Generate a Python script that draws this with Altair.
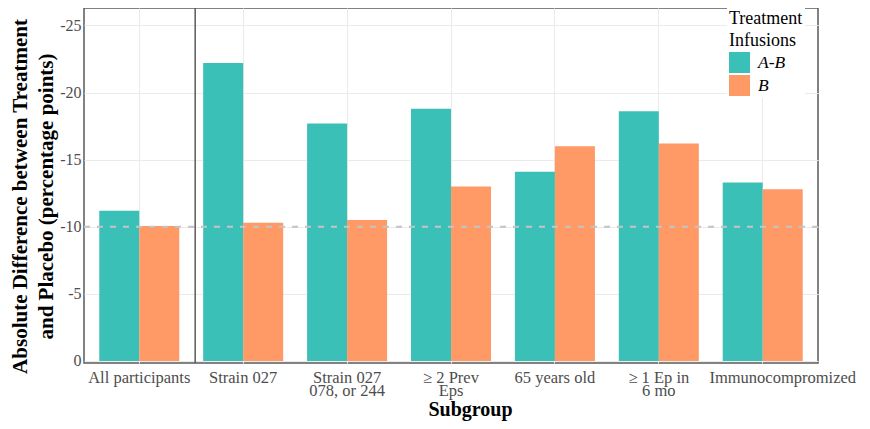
import altair as alt
import pandas as pd

subgroups = ["All participants", "Strain 027", "Strain 027\n078, or 244", "≥ 2 Prev\nEps",
             "65 years old", "≥ 1 Ep in\n6 mo", "Immunocompromized"]
treatments = ["A-B", "B"]
ab_values = [-11.2, -22.2, -17.7, -18.8, -14.1, -18.6, -13.3]
b_values = [-10.05, -10.3, -10.5, -13.0, -16.0, -16.2, -12.8]
reference_line = [-10]
y_ticks = [0, -2.5, -5, -7.5, -10, -12.5, -15, -17.5, -20, -22.5, -25]

rows = []
for s, a, b in zip(subgroups, ab_values, b_values):
    rows.append({"Subgroup": s, "Treatment": "A-B", "value": a})
    rows.append({"Subgroup": s, "Treatment": "B", "value": b})
df = pd.DataFrame(rows)

FONT = "Liberation Serif"
W, H = 734, 355

xscale = alt.Scale(domain=subgroups, paddingInner=0.23, paddingOuter=0.147)
yscale = alt.Scale(domain=[0.15, -26.3], nice=False, zero=False)

bars = alt.Chart(df).mark_bar().encode(
    x=alt.X("Subgroup:N", scale=xscale, sort=subgroups,
            axis=alt.Axis(title="Subgroup", labelAngle=0, grid=True, bandPosition=0.5,
                          ticks=False, domain=False, gridColor="#EBEBEB", gridWidth=1,
                          labelExpr="split(datum.label, '\\n')", labelFont=FONT,
                          labelFontSize=16.5, labelColor="#4D4D4D", labelLineHeight=13.5,
                          labelPadding=6,
                          labelOffset={"condition": {"test": "datum.label == 'Immunocompromized'",
                                                     "value": 20}, "value": 0},
                          titleFont=FONT, titleFontSize=20,
                          titleFontWeight="bold", titleColor="#000000",
                          titleX=386, titleY=36, titleBaseline="top")),
    xOffset=alt.XOffset("Treatment:N", sort=treatments,
                        scale=alt.Scale(paddingInner=0, paddingOuter=0)),
    y=alt.Y("value:Q", scale=yscale,
            axis=alt.Axis(title=["Absolute Difference between Treatment",
                                 "and Placebo (percentage points)"],
                          values=y_ticks, grid=True, gridColor="#EBEBEB", gridWidth=1,
                          ticks=False, domain=False,
                          labelExpr="datum.value % 5 == 0 ? (datum.value < 0 ? '-' + abs(datum.value) : '0') : ''",
                          labelFont=FONT, labelFontSize=16, labelColor="#4D4D4D",
                          labelPadding=3, titleFont=FONT, titleFontSize=21,
                          titleFontWeight="bold", titleColor="#000000",
                          titleLineHeight=26, titlePadding=3, titleY=188)),
    color=alt.Color("Treatment:N", sort=treatments,
                    scale=alt.Scale(domain=treatments, range=["#3BC0B8", "#FF9966"]),
                    legend=alt.Legend(title=["Treatment", "Infusions"], orient="none",
                                      legendX=643, legendY=0, padding=2,
                                      fillColor="#FFFFFF", titleFont=FONT,
                                      titleFontSize=18, titleFontWeight="normal",
                                      titleColor="#000000", titleLineHeight=22,
                                      titlePadding=2, labelFont=FONT, labelFontSize=17.5,
                                      labelFontStyle="italic", labelColor="#000000",
                                      labelOffset=8, symbolType="square", symbolSize=441,
                                      symbolStrokeWidth=0, rowPadding=2)),
)

sep = alt.Chart(pd.DataFrame({"Subgroup": [subgroups[1]]})).mark_rule(
    color="#5A5A5A", strokeWidth=1.5, xOffset=-8
).encode(
    x=alt.X("Subgroup:N", scale=xscale, sort=subgroups, bandPosition=0),
    y=alt.value(0), y2=alt.value(H),
)

dash = alt.Chart(pd.DataFrame({"v": reference_line})).mark_rule(
    color="#C4C4C4", strokeWidth=2, strokeDash=[6, 7]
).encode(y=alt.Y("v:Q", scale=yscale))

chart = alt.layer(bars, sep, dash).properties(
    width=W, height=H,
    autosize=alt.AutoSizeParams(type="none"),
    padding={"left": 76, "top": 0, "right": 44, "bottom": 58},
).configure_view(stroke="#5A5A5A", strokeWidth=1.5)

chart.save("out.html", embed_options={"renderer": "svg", "actions": False})
